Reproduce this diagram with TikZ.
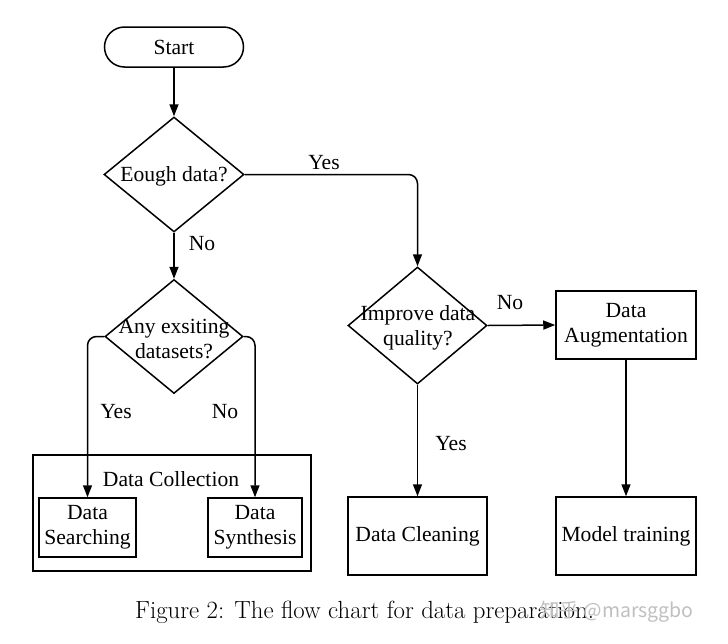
\documentclass[tikz,border=0pt]{standalone}
\usepackage{fontspec}
\setmainfont{Liberation Serif}
\newfontfamily\lmfont{Latin Modern Roman}
\newfontfamily\cjk{Noto Sans CJK SC}
\usetikzlibrary{shapes.geometric,arrows.meta}
\tikzset{
  every node/.style={font=\fontsize{21.6}{25}\selectfont},
  line/.style={line width=1.5pt, line join=round},
  arr/.style={line, -{Triangle[length=12pt,width=9pt]}},
  elbow/.style={arr, rounded corners=9pt},
  boxnode/.style={draw, line width=1.5pt, rectangle, inner sep=0pt, align=center},
  dia/.style={draw, line width=1.5pt, diamond, inner sep=0pt},
  lbl/.style={inner sep=0pt, align=center},
}
\begin{document}
\begin{tikzpicture}[x=1pt,y=-1pt]
\useasboundingbox (0,0) rectangle (728,643);
% start
\node[boxnode, rounded corners=20pt, minimum width=139pt, minimum height=40pt] (start) at (174,47) {Start};
% diamond 1
\node[dia, minimum width=140pt, minimum height=115pt] (d1) at (174,174.5) {};
\node[lbl] (t1) at (174,176) {Eough data?};
% diamond 2
\node[dia, minimum width=138pt, minimum height=114pt] (d2) at (174,336.5) {};
\node[lbl] (t2) at (174,339) {Any exsiting\\datasets?};
% diamond 3
\node[dia, minimum width=139pt, minimum height=117pt] (d3) at (417.5,325.5) {};
\node[lbl] (t3) at (418,328) {Improve data\\quality?};
% collection
\node[boxnode, minimum width=278pt, minimum height=116pt] (coll) at (172,513) {};
\node[lbl] (colllbl) at (171,479) {Data Collection};
\node[boxnode, minimum width=97pt, minimum height=59pt] (search) at (87.5,527.5) {Data\\Searching};
\node[boxnode, minimum width=94pt, minimum height=59pt] (synth) at (255,527.5) {Data\\Synthesis};
% right side
\node[boxnode, minimum width=140pt, minimum height=68pt] (aug) at (626,325) {Data\\Augmentation};
\node[boxnode, minimum width=139pt, minimum height=78pt] (clean) at (417.5,536) {Data Cleaning};
\node[boxnode, minimum width=140pt, minimum height=78pt] (model) at (626,536) {Model training};
% connectors
\draw[arr] (start.south) -- (d1.north);
\draw[arr] (d1.south) -- (d2.north);
\draw[elbow] (d1.east) -| (d3.north);
\draw[elbow] (d2.west) -| (search.north);
\draw[elbow] (d2.east) -| (synth.north);
\draw[arr] (d3.east) -- (aug.west);
\draw[arr] (d3.south) -- (clean.north);
\draw[arr] (aug.south) -- (model.north);
% edge labels
\node[lbl] (y1) at (324,163) {Yes};
\node[lbl] (n1) at (202,244) {No};
\node[lbl] (y2) at (116,412) {Yes};
\node[lbl] (n2) at (225,412) {No};
\node[lbl] (n3) at (510,303) {No};
\node[lbl] (y3) at (451,444) {Yes};
% caption
\node[lbl, font=\lmfont\fontsize{24.8}{28}\selectfont, anchor=base west] (cap) at (135,618) {Figure 2: The flow chart for data preparation.};
\node[lbl, font=\cjk\fontsize{19.5}{22}\selectfont, text=black!25, anchor=base west] (wm) at (540,617) {知乎 @marsggbo};
\end{tikzpicture}
\end{document}
